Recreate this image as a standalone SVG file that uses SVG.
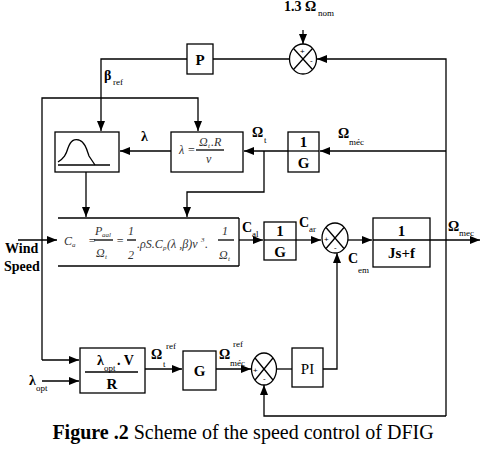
<svg xmlns="http://www.w3.org/2000/svg" width="481" height="472" viewBox="0 0 481 472">
<defs>
<marker id="ah" markerWidth="10" markerHeight="8" refX="10" refY="4" orient="auto" markerUnits="userSpaceOnUse"><path d="M0,0 L10,4 L0,8 z" fill="#000"/></marker>
<style>
.box{fill:#fff;stroke:#000;stroke-width:1.3}
.ln{fill:none;stroke:#000;stroke-width:1.3}
.ar{fill:none;stroke:#000;stroke-width:1.3;marker-end:url(#ah)}
.lb{font-family:"Liberation Serif",serif;font-weight:bold;font-size:14px;fill:#000}
.sb{font-family:"Liberation Serif",serif;font-size:9px;fill:#000}
.bt{font-family:"Liberation Serif",serif;font-size:15px;fill:#000;text-anchor:middle}
.fm{font-family:"Liberation Serif",serif;font-style:italic;font-size:12px;fill:#333}
.fs{font-family:"Liberation Serif",serif;font-style:italic;font-size:7px;fill:#333}
.sg{font-family:"Liberation Sans",sans-serif;font-size:8px;fill:#000}
</style>
</defs>
<rect width="481" height="472" fill="#fff"/>
<g id="connectors">
<line class="ln" x1="290" y1="59" x2="213" y2="59"/>
<path class="ar" d="M187,59 L101,59 L101,131"/>
<path class="ar" d="M303,30 L303,44"/>
<path class="ar" d="M446,416 L446,59 L317,59"/>
<path class="ar" d="M446,151 L320,151"/>
<path class="ar" d="M288,151 L244,151"/>
<path class="ar" d="M264,151 L264,192 L187,192 L187,217"/>
<path class="ar" d="M171,151 L120,151"/>
<path class="ar" d="M42,360 L42,98 L198,98 L198,131"/>
<path class="ar" d="M42,360 L79,360"/>
<path class="ar" d="M86,172 L86,217"/>
<path class="ar" d="M18,240 L57,240"/>
<path class="ar" d="M239,240 L263,240"/>
<path class="ar" d="M296,240 L321,240"/>
<path class="ar" d="M348,240 L372,240"/>
<path class="ar" d="M430,240 L480,240"/>
<path class="ar" d="M42,381 L79,381"/>
<path class="ar" d="M145,369 L182,369"/>
<path class="ar" d="M216,369 L251,369"/>
<line class="ln" x1="277" y1="369" x2="292" y2="369"/>
<path class="ar" d="M323,369 L337,369 L337,253"/>
<path class="ar" d="M446,416 L264,416 L264,385"/>
</g>
<g id="sum_top">
<ellipse class="box" cx="303" cy="59" rx="13.5" ry="15"/>
<line class="ln" x1="293.5" y1="48.5" x2="312.5" y2="69.5"/>
<line class="ln" x1="312.5" y1="48.5" x2="293.5" y2="69.5"/>
<text class="sg" x="300" y="54">+</text>
<text class="sg" x="310" y="63">-</text>
<text class="lb" x="284" y="11">1.3 Ω</text>
<text class="sb" x="318" y="16">nom</text>
</g>
<g id="P">
<rect class="box" x="187" y="44" width="26" height="30"/>
<text class="bt" x="200" y="65" font-weight="bold">P</text>
</g>
<text class="lb" x="104" y="80">β</text>
<text class="sb" x="113" y="85">ref</text>
<g id="cp_curve">
<rect class="box" x="55" y="132" width="64" height="40"/>
<line class="ln" x1="58" y1="165" x2="110" y2="165"/>
<path class="ln" d="M58,162 C64,158 66,155 68,148 C71,140 74,139 79,140 C85,142 87,150 89,156 L95,165"/>
</g>
<g id="lambda_box">
<rect class="box" x="171" y="132" width="72" height="40"/>
<text class="fm" x="179" y="154">λ =</text>
<text class="fm" x="199" y="146">Ω</text><text class="fs" x="208" y="148">t</text><text class="fm" x="211" y="146">.R</text>
<line class="ln" x1="196" y1="150" x2="224" y2="150" stroke-width="0.8"/>
<text class="fm" x="206" y="163">v</text>
<text class="lb" x="141" y="141">λ</text>
</g>
<g id="gear1">
<rect class="box" x="288" y="132" width="31" height="40"/>
<line class="ln" x1="288" y1="151" x2="319" y2="151"/>
<text class="bt" x="303.5" y="147" font-weight="bold">1</text>
<text class="bt" x="303.5" y="168" font-weight="bold">G</text>
<text class="lb" x="252" y="137">Ω</text><text class="sb" x="264" y="143">t</text>
<text class="lb" x="338" y="138">Ω</text><text class="sb" x="349" y="145">méc</text>
</g>
<g id="aero">
<line class="ln" x1="58" y1="218" x2="239" y2="218"/>
<line class="ln" x1="58" y1="266" x2="239" y2="266"/>
<line class="ln" x1="239" y1="218" x2="239" y2="266"/>
<text class="fm" x="64" y="245">C</text><text class="fs" x="72" y="247">a</text>
<text class="fm" x="88" y="245">=</text>
<text class="fm" x="95" y="235">P</text><text class="fs" x="102" y="237">aal</text>
<line class="ln" x1="94" y1="240" x2="113" y2="240" stroke-width="0.8"/>
<text class="fm" x="96" y="257">Ω</text><text class="fs" x="105" y="259">t</text>
<text class="fm" x="116" y="245">=</text>
<text class="fm" x="128" y="235" font-style="normal" font-size="14">1</text>
<line class="ln" x1="127" y1="240" x2="136" y2="240" stroke-width="0.8"/>
<text class="fm" x="128" y="259" font-style="normal" font-size="14">2</text>
<text class="fm" x="137" y="248">.ρS.C</text><text class="fs" x="163" y="250">p</text><text class="fm" x="167" y="248">(λ ,β)v</text><text class="fs" x="201" y="242">3</text><text class="fm" x="205" y="248">.</text>
<text class="fm" x="222" y="235" font-style="normal" font-size="14">1</text>
<line class="ln" x1="218" y1="240" x2="234" y2="240" stroke-width="0.8"/>
<text class="fm" x="219" y="259">Ω</text><text class="fs" x="228" y="261">t</text>
<text class="lb" x="5" y="253" font-size="13">Wind</text>
<text class="lb" x="4" y="271" font-size="13">Speed</text>
</g>
<g id="gear2">
<rect class="box" x="264" y="222" width="32" height="38"/>
<line class="ln" x1="264" y1="240" x2="296" y2="240"/>
<text class="bt" x="280" y="236" font-weight="bold">1</text>
<text class="bt" x="280" y="257" font-weight="bold">G</text>
<text class="lb" x="242" y="232">C</text><text class="sb" x="252" y="237">al</text>
<text class="lb" x="299" y="227">C</text><text class="sb" x="309" y="232">ar</text>
</g>
<g id="sum_mid">
<ellipse class="box" cx="335" cy="238" rx="13" ry="15"/>
<line class="ln" x1="326" y1="227.5" x2="344" y2="248.5"/>
<line class="ln" x1="344" y1="227.5" x2="326" y2="248.5"/>
<text class="sg" x="324" y="242">+</text>
<text class="sg" x="334" y="250">-</text>
<text class="lb" x="348" y="263">C</text><text class="sb" x="358" y="273">em</text>
</g>
<g id="mech">
<rect class="box" x="373" y="218" width="57" height="49"/>
<line class="ln" x1="373" y1="240" x2="430" y2="240"/>
<text class="bt" x="401.5" y="236" font-weight="bold">1</text>
<text class="bt" x="401.5" y="258" font-weight="bold">Js+f</text>
<text class="lb" x="448" y="231">Ω</text><text class="sb" x="459" y="236">mec</text>
</g>
<g id="opt_box">
<rect class="box" x="80" y="348" width="65" height="45"/>
<line class="ln" x1="85" y1="372" x2="138" y2="372"/>
<text class="lb" x="97" y="365">λ</text><text class="sb" x="104" y="371">opt</text><text class="lb" x="117" y="365">. V</text>
<text class="bt" x="112" y="389" font-weight="bold">R</text>
<text class="lb" x="29" y="385">λ</text><text class="sb" x="36" y="391">opt</text>
</g>
<g id="gain_G">
<rect class="box" x="183" y="351" width="33" height="39"/>
<text class="bt" x="199.5" y="376" font-weight="bold">G</text>
<text class="lb" x="151" y="359">Ω</text><text class="sb" x="163" y="367">t</text><text class="sb" x="166" y="349">ref</text>
<text class="lb" x="219" y="359">Ω</text><text class="sb" x="230" y="366">méc</text><text class="sb" x="233" y="347">ref</text>
</g>
<g id="sum_bot">
<ellipse class="box" cx="264" cy="369" rx="12.5" ry="16"/>
<line class="ln" x1="255" y1="358" x2="273" y2="380"/>
<line class="ln" x1="273" y1="358" x2="255" y2="380"/>
<text class="sg" x="253" y="373">+</text>
<text class="sg" x="263" y="381">-</text>
</g>
<g id="PI">
<rect class="box" x="292" y="348" width="31" height="39"/>
<text class="bt" x="307.5" y="374">PI</text>
</g>
<text x="243" y="439" text-anchor="middle" font-family="Liberation Serif, serif" font-size="20"><tspan font-weight="bold">Figure .2</tspan> Scheme of the speed control of DFIG</text>
</svg>
